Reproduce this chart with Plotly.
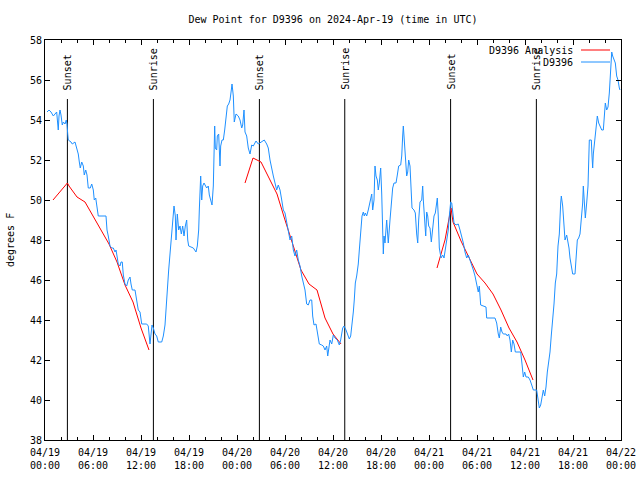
import datetime as dt
import plotly.graph_objects as go

TITLE = "Dew Point for D9396 on 2024-Apr-19 (time in UTC)"
Y_TITLE = "degrees F"
START = dt.datetime(2024, 4, 19, 0, 0)
END = dt.datetime(2024, 4, 22, 0, 0)

# Observed dew point (hours since 2024-04-19 00:00 UTC, degrees F)
obs_hours = [0.25, 0.41, 0.5, 0.75, 1.04, 1.25, 1.46, 1.59, 1.66, 1.75, 1.875, 2.0, 2.16, 2.29, 2.5, 2.66, 2.75, 2.84, 2.91,
             3.25, 3.41, 3.75, 3.96, 4.16, 4.29, 4.41, 4.59, 4.79, 4.91, 5.09, 5.25, 5.41, 5.66, 5.84, 6.04, 6.16, 6.34,
             6.46, 6.66, 7.625, 7.75, 7.91, 8.125, 8.34, 8.54, 8.75, 8.875, 9.0, 9.16, 9.375, 9.5, 9.66, 9.79, 10.0,
             10.21, 10.41, 10.625, 10.75, 10.91, 11.25, 11.46, 11.66, 11.875, 12.09, 12.71, 12.91, 13.125, 13.25,
             13.375, 13.54, 13.75, 13.96, 14.16, 14.59, 14.79, 15.0, 15.125, 15.29, 15.46, 15.625, 15.79, 15.96,
             16.125, 16.29, 16.375, 16.54, 16.71, 16.875, 17.04, 17.21, 17.375, 17.54, 17.71, 17.84, 17.96, 18.54,
             18.875, 19.04, 19.21, 19.29, 19.46, 19.59, 19.71, 19.875, 20.04, 20.21, 20.41, 20.54, 20.71, 20.875,
             21.04, 21.125, 21.21, 21.29, 21.46, 21.54, 21.71, 21.875, 21.96, 22.125, 22.29, 22.46, 22.625, 22.79,
             22.96, 23.125, 23.29, 23.375, 23.46, 23.54, 23.66, 23.875, 24.16, 24.375, 24.59, 24.71, 24.875, 25.0,
             25.21, 25.41, 25.625, 25.84, 26.04, 26.375, 26.66, 27.09, 27.41, 27.71, 27.91, 28.125, 28.34, 28.54,
             28.75, 28.96, 29.16, 29.375, 29.59, 29.79, 30.0, 30.21, 30.41, 30.625, 30.84, 31.04, 31.25, 31.46,
             31.66, 31.875, 32.09, 32.29, 32.5, 32.71, 32.91, 33.125, 33.34, 33.46, 33.625, 33.875, 34.04, 34.29,
             34.59, 34.79, 35.0, 35.21, 35.34, 35.46, 35.625, 35.84, 36.04, 36.25, 36.54, 36.79, 36.96, 37.21,
             37.375, 37.625, 37.91, 38.04, 38.21, 38.375, 38.54, 38.66, 38.79, 38.96, 39.16, 39.29, 39.46, 39.625,
             39.79, 39.91, 40.04, 40.21, 40.41, 40.54, 40.71, 40.84, 40.96, 41.125, 41.25, 41.375, 41.54, 41.66,
             41.79, 41.96, 42.09, 42.21, 42.29, 42.375, 42.5, 42.71, 42.91, 43.125, 43.25, 43.46, 43.625, 43.875,
             44.04, 44.21, 44.46, 44.59, 44.71, 44.79, 44.875, 45.04, 45.21, 45.34, 45.46, 45.625, 45.75, 45.875,
             46.125, 46.29, 46.46, 46.59, 46.71, 46.875, 47.09, 47.21, 47.29, 47.46, 47.59, 47.71, 47.84, 47.96,
             48.125, 48.29, 48.46, 48.625, 48.79, 48.91, 49.04, 49.16, 49.29, 49.5, 49.71, 49.875, 50.09, 50.29,
             50.41, 50.54, 50.71, 50.84, 50.96, 51.125, 51.375, 51.66, 51.875, 52.09, 52.29, 52.5, 52.71, 52.91,
             53.125, 53.34, 53.54, 53.75, 53.96, 54.16, 54.29, 54.46, 55.125, 55.21, 56.25, 56.46, 56.66, 56.79,
             56.96, 57.125, 57.29, 57.625, 57.79, 57.96, 58.125, 58.29, 58.46, 58.625, 58.79, 59.46, 59.625, 59.79,
             59.96, 60.125, 60.41, 60.625, 60.84, 61.04, 61.46, 61.66, 61.79, 61.96, 62.125, 62.29, 62.46, 62.625,
             62.79, 62.96, 63.125, 63.29, 63.46, 63.625, 63.79, 63.96, 64.125, 64.29, 64.46, 64.54, 64.71, 64.875,
             65.0, 65.21, 65.34, 65.5, 65.625, 65.84, 65.96, 66.25, 66.375, 66.54, 66.71, 66.875, 67.09, 67.21,
             67.29, 67.41, 67.54, 67.71, 67.875, 68.04, 68.29, 68.375, 68.46, 68.54, 68.71, 68.875, 69.04, 69.21,
             69.375, 69.59, 69.79, 69.875, 70.04, 70.21, 70.375, 70.54, 70.71, 70.84, 70.96, 71.125, 71.29, 71.46,
             71.625, 71.79, 71.875]
obs_values = [54.4, 54.46, 54.5, 54.4, 54.2, 54.3, 54.4, 53.8, 53.5, 54.2, 54.5, 54.25, 53.75, 53.9, 53.8, 54.0, 53.8, 53.3, 53.0,
              52.9, 52.8, 52.9, 52.6, 52.3, 51.9, 51.6, 51.9, 51.7, 51.25, 51.5, 51.25, 50.6, 50.6, 50.8, 50.5, 50.0, 50.1,
              49.8, 49.2, 49.2, 48.5, 48.2, 47.7, 47.6, 47.6, 47.4, 47.5, 47.2, 46.8, 46.7, 46.9, 46.9, 46.25, 45.8,
              45.7, 46.0, 46.15, 45.8, 45.5, 45.5, 44.9, 44.5, 44.4, 43.8, 43.8, 43.7, 42.8, 43.3,
              43.75, 43.6, 43.3, 43.2, 42.9, 42.9, 43.2, 43.75, 44.5, 46.0, 46.5, 47.3, 48.2, 49.3,
              49.7, 49.2, 48.0, 49.3, 48.5, 48.7, 48.3, 48.7, 48.2, 48.7, 49.0, 48.0, 47.7, 47.6,
              47.4, 47.7, 48.5, 49.5, 51.2, 50.0, 50.7, 50.85, 50.7, 50.6, 50.7, 50.25, 50.0, 49.75,
              50.7, 52.7, 53.7, 52.6, 52.5, 53.2, 53.3, 51.7, 52.7, 53.0, 53.0, 53.5, 54.2, 54.7,
              54.8, 55.0, 55.5, 55.8, 55.5, 55.2, 53.9, 54.3, 54.2, 54.0, 53.6, 53.75, 54.5, 53.4,
              53.2, 52.6, 52.3, 52.75, 52.7, 52.95, 52.8, 52.9, 53.0, 52.8, 52.6, 52.0, 51.5, 51.2,
              50.85, 50.5, 50.75, 50.5, 50.0, 49.5, 49.35, 48.85, 48.3, 48.0, 48.2, 47.5, 47.2, 47.5,
              47.0, 46.7, 46.2, 45.85, 45.5, 44.8, 44.75, 45.0, 45.0, 44.2, 43.75, 43.8, 43.3, 42.8,
              42.75, 42.7, 42.5, 42.7, 42.2, 42.7, 43.0, 42.8, 43.25, 43.1, 43.0, 42.75, 43.0, 43.6,
              43.7, 43.5, 43.2, 43.05, 43.2, 43.7, 44.4, 45.0, 45.85, 46.2, 46.8, 47.5, 48.5, 49.2,
              49.4, 49.2, 49.35, 49.2, 49.5, 49.75, 50.1, 50.3, 49.5, 50.0, 51.7, 51.2, 51.0, 50.5,
              50.85, 51.6, 50.3, 48.5, 47.3, 48.2, 47.85, 49.0, 47.85, 49.0, 49.7, 50.6, 50.85, 50.85,
              51.25, 51.7, 51.75, 52.2, 53.2, 53.7, 53.2, 51.85, 51.2, 51.4, 52.0, 51.7, 50.35, 49.6,
              49.5, 49.35, 48.3, 47.85, 49.0, 49.9, 50.0, 50.7, 50.0, 48.7, 48.2, 49.4, 49.2, 48.7,
              48.6, 47.9, 48.5, 49.2, 49.35, 49.9, 50.1, 49.2, 47.6, 47.1, 47.25, 47.1, 47.6, 48.2,
              48.5, 49.2, 49.9, 49.85, 49.35, 48.85, 48.75, 48.8, 48.5, 48.2, 47.85, 47.4, 47.1, 47.25,
              47.0, 46.8, 46.5, 46.2, 45.7, 45.4, 45.7, 44.75, 44.65, 44.1, 44.1, 43.85, 43.3, 43.1,
              43.65, 43.4, 43.3, 43.3, 43.2, 43.3, 43.0, 42.4, 43.0, 42.8, 42.4, 42.4, 41.8, 41.15,
              41.4, 41.15, 41.15, 41.0, 40.75, 40.5, 40.5, 39.9, 39.6, 39.75, 40.1, 40.5, 40.2, 40.65,
              41.4, 41.9, 42.4, 43.25, 43.9, 44.8, 45.85, 46.3, 47.7, 48.3, 49.85, 50.2, 49.7, 48.7,
              48.0, 48.25, 48.0, 47.6, 47.1, 46.7, 46.3, 46.3, 47.2, 48.0, 48.1, 48.3, 49.3, 49.85,
              50.7, 50.0, 49.1, 49.85, 50.7, 53.0, 53.0, 52.2, 51.6, 52.3, 53.0, 53.7, 54.2, 53.85,
              53.65, 53.5, 53.5, 54.2, 54.85, 54.5, 54.65, 55.35, 56.85, 57.4, 57.2, 57.0, 56.85, 56.2,
              56.0, 55.6, 55.5]

# Analysis (three overnight segments; None separates segments)
ana_hours = [1, 2, 2.8, 3, 4, 5, 6, 7, 8, 9, 10, 11, 12, 13, None,
             25, 26, 27, 28, 29, 30, 31, 32, 33, 34, 35, 36, 37, None,
             49, 50, 50.75, 51, 52, 53, 54, 55, 56, 57, 58, 59, 60, 61]
ana_values = [50.0, 50.45, 50.85, 50.7, 50.15, 49.9, 49.2, 48.55, 47.8, 46.9, 45.75, 44.9, 43.6, 42.5, None,
              50.85, 52.1, 51.9, 51.1, 50.3, 49.0, 47.7, 46.5, 45.8, 45.5, 44.1, 43.3, 42.8, None,
              46.6, 48.0, 49.6, 48.9, 47.95, 47.1, 46.3, 45.85, 45.3, 44.5, 43.6, 42.9, 42.0, 41.0]

# Sun events (hours since start)
sun_labels = ["Sunset", "Sunrise", "Sunset", "Sunrise", "Sunset", "Sunrise"]
sun_hours = [2.8, 13.55, 26.8, 37.47, 50.7, 61.42]

Y_MIN, Y_MAX = 38, 58
SUN_LINE_TOP = 55.05
SUN_LABEL_Y = 55.4


def to_time(h):
    return None if h is None else START + dt.timedelta(hours=h)


FONT = "DejaVu Sans Mono"
RED = "#ff0000"
BLUE = "#1e90ff"

fig = go.Figure()
fig.add_trace(go.Scatter(x=[to_time(h) for h in ana_hours], y=ana_values, mode="lines",
                         line=dict(color=RED, width=1), name="D9396 Analysis",
                         connectgaps=False, showlegend=False))
fig.add_trace(go.Scatter(x=[to_time(h) for h in obs_hours], y=obs_values, mode="lines",
                         line=dict(color=BLUE, width=1), name="D9396", showlegend=False))

for lab, h in zip(sun_labels, sun_hours):
    t = to_time(h)
    fig.add_shape(type="line", x0=t, x1=t, y0=Y_MIN, y1=SUN_LINE_TOP, xref="x", yref="y",
                  line=dict(color="black", width=1), layer="below")
    fig.add_annotation(x=t, y=SUN_LABEL_Y, xref="x", yref="y", text=lab, textangle=-90,
                       showarrow=False, xanchor="center", yanchor="bottom",
                       font=dict(family=FONT, size=10, color="black"))

# gnuplot-style key: text on the left, line sample on the right
L, R, T, B = 45, 19, 40, 40
W, H = 640 - L - R, 480 - T - B


def px_x(px):
    return (px - L) / W


def px_y(py):
    return (480 - B - py) / H


key = [("D9396 Analysis", RED, 50), ("D9396", BLUE, 62)]
for txt, col, py in key:
    fig.add_annotation(x=px_x(575), y=px_y(py), xref="paper", yref="paper", text=txt,
                       showarrow=False, xanchor="right", yanchor="middle",
                       font=dict(family=FONT, size=10, color="black"))
    fig.add_shape(type="line", xref="paper", yref="paper", x0=px_x(581), x1=px_x(610),
                  y0=px_y(py), y1=px_y(py), line=dict(color=col, width=1))

# y-axis title placed like gnuplot's ylabel
fig.add_annotation(x=px_x(10), y=px_y(240), xref="paper", yref="paper", text=Y_TITLE,
                   textangle=-90, showarrow=False, xanchor="center", yanchor="middle",
                   font=dict(family=FONT, size=10, color="black"))

fig.update_layout(
    width=640, height=480,
    margin=dict(l=L, r=R, t=T, b=B, autoexpand=False),
    paper_bgcolor="white", plot_bgcolor="white",
    font=dict(family=FONT, size=10, color="black"),
    title=dict(text=TITLE, x=(L + W / 2) / 640, xanchor="center", y=1 - 19 / 480, yanchor="middle",
               font=dict(family=FONT, size=10, color="black")),
    showlegend=False,
)
fig.update_xaxes(
    type="date", range=[START, END], showgrid=False, zeroline=False, automargin=False,
    showline=True, linecolor="black", linewidth=1, mirror="allticks",
    ticks="inside", ticklen=5, tickcolor="black", ticklabelstandoff=3,
    dtick=6 * 3600 * 1000, tick0=START, tickformat="%m/%d<br>%H:%M",
    minor=dict(dtick=2 * 3600 * 1000, ticks="inside", ticklen=3, tickcolor="black", showgrid=False),
    tickfont=dict(family=FONT, size=10, color="black"),
)
fig.update_yaxes(
    range=[Y_MIN, Y_MAX], showgrid=False, zeroline=False, automargin=False,
    showline=True, linecolor="black", linewidth=1, mirror="allticks",
    ticks="inside", ticklen=5, tickcolor="black", dtick=2, tick0=38,
    tickfont=dict(family=FONT, size=10, color="black"),
)

fig.write_html("out.html", config={"displayModeBar": False},
               post_script="document.body.style.margin='0';")
